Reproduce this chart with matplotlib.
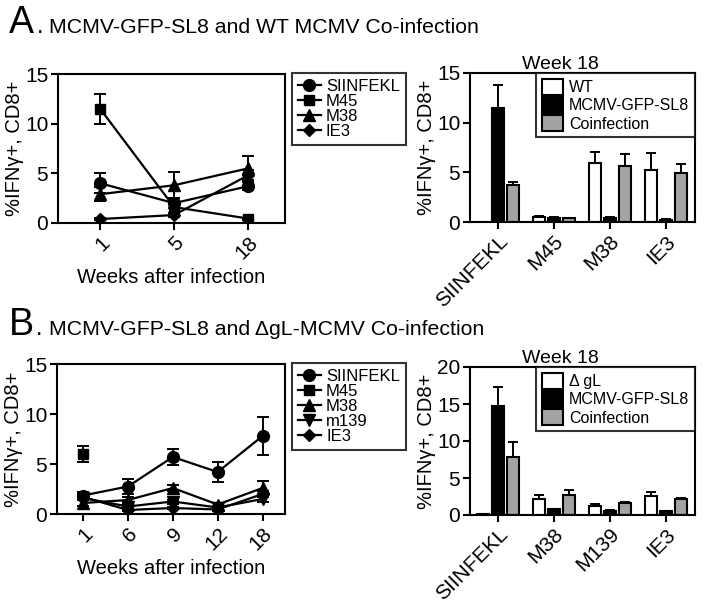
import numpy as np
import matplotlib
matplotlib.use("Agg")
import matplotlib.pyplot as plt
from matplotlib.patches import Patch
from matplotlib.lines import Line2D

plt.rcParams['font.family'] = ['Liberation Sans', 'DejaVu Sans']

# ---------------- data ----------------
weeks_A = ['1', '5', '18']
A_SIINFEKL = [4.0, 2.0, 3.7]
A_SIINFEKL_err = [1.0, 0.5, 0.4]
A_M45 = [11.5, 1.6, 0.45]
A_M45_err = [1.5, 0.9, 0.1]
A_M38 = [2.9, 3.8, 5.5]
A_M38_err = [0.7, 1.3, 1.2]
A_IE3 = [0.4, 0.8, 4.8]
A_IE3_err = [0.1, 0.2, 0.5]

weeks_B = ['1', '6', '9', '12', '18']
B_SIINFEKL = [1.85, 2.75, 5.7, 4.2, 7.8]
B_SIINFEKL_err = [0.35, 0.75, 0.8, 1.0, 1.9]
B_M45 = [6.0, np.nan, np.nan, np.nan, np.nan]
B_M45_err = [0.8, 0, 0, 0, 0]
B_M38 = [1.1, 1.4, 2.6, 0.95, 2.6]
B_M38_err = [0.3, 0.3, 0.3, 0.2, 0.7]
B_m139 = [1.6, 0.75, 1.25, 0.65, 1.5]
B_m139_err = [0.2, 0.15, 0.2, 0.15, 0.3]
B_IE3 = [1.7, 0.4, 0.6, 0.45, 2.0]
B_IE3_err = [0.2, 0.1, 0.1, 0.1, 0.3]

barcats_A = ['SIINFEKL', 'M45', 'M38', 'IE3']
barA_WT = [0.05, 0.55, 5.9, 5.25]
barA_WT_err = [0.0, 0.1, 1.1, 1.7]
barA_GFP = [11.45, 0.45, 0.45, 0.25]
barA_GFP_err = [2.3, 0.05, 0.05, 0.05]
barA_Co = [3.75, 0.4, 5.6, 4.9]
barA_Co_err = [0.3, 0.05, 1.2, 0.9]

barcats_B = ['SIINFEKL', 'M38', 'M139', 'IE3']
barB_dgL = [0.1, 2.1, 1.15, 2.55]
barB_dgL_err = [0.0, 0.55, 0.4, 0.6]
barB_GFP = [14.7, 0.75, 0.6, 0.5]
barB_GFP_err = [2.6, 0.05, 0.05, 0.05]
barB_Co = [7.9, 2.65, 1.6, 2.1]
barB_Co_err = [1.9, 0.7, 0.15, 0.25]

# ---------------- figure ----------------
W, H = 704, 606
fig = plt.figure(figsize=(W / 100, H / 100), dpi=100)


def rect(l, r, t, b):
    return [l / W, 1 - b / H, (r - l) / W, (b - t) / H]


LW = 1.5
TICKFS = 15
LABFS = 14.5
GRAY = '#a3a3a3'
YLABEL = '%IFN\u03b3+, CD8+'


def style_axes(ax):
    for s in ax.spines.values():
        s.set_linewidth(LW)
    ax.tick_params(axis='both', direction='out', length=5, width=LW, labelsize=TICKFS, pad=2)


def line_panel(ax, xlabels, series, xlim):
    x = np.arange(len(xlabels))
    handles = []
    for name, vals, errs, mk, ms in series:
        ax.errorbar(x, vals, yerr=errs, color='black', marker=mk, markersize=ms,
                    linewidth=1.6, elinewidth=1.4, capsize=4.5, capthick=1.4)
        handles.append(Line2D([], [], color='black', marker=mk, markersize=ms, linewidth=1.6, label=name))
    ax.set_xlim(*xlim)
    ax.set_ylim(0, 15)
    ax.set_yticks([0, 5, 10, 15])
    ax.set_xticks(x)
    ax.set_xticklabels(xlabels, rotation=45, ha='right', rotation_mode='anchor')
    ax.set_xlabel('Weeks after infection', fontsize=LABFS, labelpad=4)
    ax.set_ylabel(YLABEL, fontsize=LABFS, labelpad=1)
    style_axes(ax)
    leg = ax.legend(handles=handles, loc='upper left', bbox_to_anchor=(1.03, 1.005),
                    borderaxespad=0, frameon=True, fancybox=False, edgecolor='black',
                    fontsize=12, handlelength=1.4, handletextpad=0.3, labelspacing=0.0,
                    borderpad=0.35)
    leg.get_frame().set_linewidth(LW)


def bar_panel(ax, cats, series, ymax, yticks):
    x = np.arange(len(cats))
    w = 0.21
    offs = [-0.27, 0, 0.27]
    handles = []
    for (name, vals, errs, col), o in zip(series, offs):
        ax.bar(x + o, vals, width=w, color=col, edgecolor='black', linewidth=LW, zorder=2)
        ax.errorbar(x + o, vals, yerr=[np.zeros(len(errs)), errs], fmt='none', ecolor='black',
                    elinewidth=1.4, capsize=3.5, capthick=1.4, zorder=1)
        handles.append(Patch(facecolor=col, edgecolor='black', linewidth=LW, label=name))
    ax.set_xlim(-0.5, len(cats) - 1 + 0.52)
    ax.set_ylim(0, ymax)
    ax.set_yticks(yticks)
    ax.set_xticks(x)
    ax.set_xticklabels(cats, rotation=45, ha='right', rotation_mode='anchor')
    ax.set_ylabel(YLABEL, fontsize=LABFS, labelpad=1)
    ax.set_title('Week 18', fontsize=14, pad=3, x=(560 - 470) / 225)
    style_axes(ax)
    leg = ax.legend(handles=handles, loc='upper right', borderaxespad=0, frameon=True,
                    fancybox=False, edgecolor='black', fontsize=11.5, handlelength=1.3,
                    handleheight=1.2, handletextpad=0.4, labelspacing=0.1, borderpad=0.35)
    leg.get_frame().set_linewidth(LW)


# Panel A line
axA = fig.add_axes(rect(58, 285, 74, 223))
line_panel(axA, weeks_A, [
    ('SIINFEKL', A_SIINFEKL, A_SIINFEKL_err, 'o', 8.5),
    ('M45', A_M45, A_M45_err, 's', 7.5),
    ('M38', A_M38, A_M38_err, '^', 8.5),
    ('IE3', A_IE3, A_IE3_err, 'D', 6.5),
], (-0.57, 2.5))

# Panel A bar
axA2 = fig.add_axes(rect(470, 695, 73, 222))
bar_panel(axA2, barcats_A, [
    ('WT', barA_WT, barA_WT_err, 'white'),
    ('MCMV-GFP-SL8', barA_GFP, barA_GFP_err, 'black'),
    ('Coinfection', barA_Co, barA_Co_err, GRAY),
], 15, [0, 5, 10, 15])

# Panel B line
axB = fig.add_axes(rect(57, 285, 364, 514))
line_panel(axB, weeks_B, [
    ('SIINFEKL', B_SIINFEKL, B_SIINFEKL_err, 'o', 8.5),
    ('M45', B_M45, B_M45_err, 's', 7.5),
    ('M38', B_M38, B_M38_err, '^', 8.5),
    ('m139', B_m139, B_m139_err, 'v', 8.5),
    ('IE3', B_IE3, B_IE3_err, 'D', 6.5),
], (-0.58, 4.5))

# Panel B bar
axB2 = fig.add_axes(rect(470, 695, 367, 515))
bar_panel(axB2, barcats_B, [
    ('\u0394 gL', barB_dgL, barB_dgL_err, 'white'),
    ('MCMV-GFP-SL8', barB_GFP, barB_GFP_err, 'black'),
    ('Coinfection', barB_Co, barB_Co_err, GRAY),
], 20, [0, 5, 10, 15, 20])

# Panel titles
fig.text(9 / W, 1 - 33 / H, 'A', fontsize=27, va='baseline', ha='left')
fig.text(37 / W, 1 - 33 / H, '.', fontsize=17, va='baseline', ha='left')
fig.text(49 / W, 1 - 33 / H, 'MCMV-GFP-SL8 and WT MCMV Co-infection', fontsize=15.3, va='baseline', ha='left')
fig.text(9 / W, 1 - 335 / H, 'B', fontsize=27, va='baseline', ha='left')
fig.text(36 / W, 1 - 335 / H, '.', fontsize=17, va='baseline', ha='left')
fig.text(49 / W, 1 - 335 / H, 'MCMV-GFP-SL8 and \u0394gL-MCMV Co-infection', fontsize=15.3, va='baseline', ha='left')

fig.savefig('out.png', dpi=100)
